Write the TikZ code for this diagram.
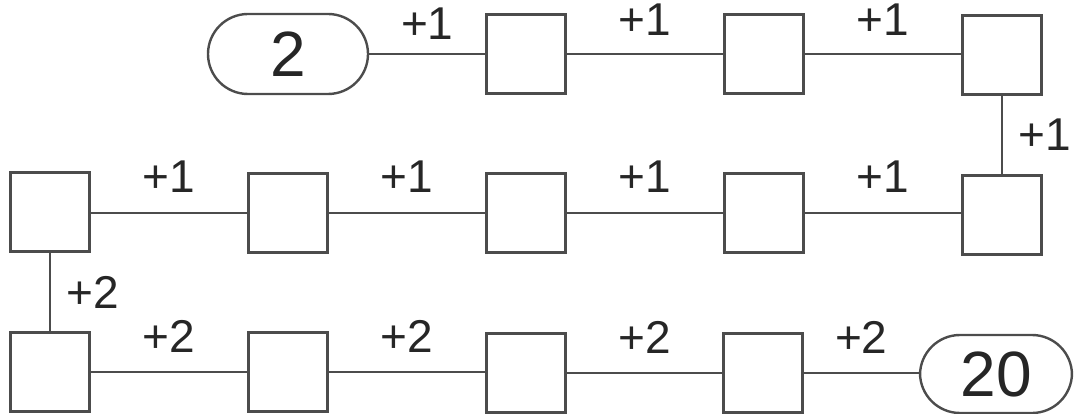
\documentclass[tikz,border=0pt]{standalone}
\usepackage{fontspec}
\setmainfont{Liberation Sans}
\begin{document}
\begin{tikzpicture}[x=1pt,y=-1pt,
  every node/.style={text=black!85},
  box/.style={draw=black!70,line width=2.4pt,minimum width=79pt,minimum height=79pt,inner sep=0pt},
  oval/.style={draw=black!70,line width=2.4pt,minimum height=80pt,rounded corners=40pt,inner sep=0pt,font=\fontsize{64}{70}\selectfont},
  conn/.style={draw=black!70,line width=2.4pt},
  lbl/.style={anchor=base,inner sep=0pt,font=\fontsize{46}{50}\selectfont},
  vlbl/.style={anchor=west,inner sep=0pt,font=\fontsize{46}{50}\selectfont}]
\useasboundingbox (0,0) rectangle (1079,414);
% row 1
\node[oval,minimum width=160pt] (s) at (288,54) {2};
\node[box] (a1) at (526,54) {};
\node[box] (a2) at (764,54) {};
\node[box] (a3) at (1002,55) {};
% row 2
\node[box] (b5) at (1002,215) {};
\node[box] (b4) at (764,213) {};
\node[box] (b3) at (526,213) {};
\node[box] (b2) at (288,213) {};
\node[box] (b1) at (50,212) {};
% row 3
\node[box] (c1) at (50,372) {};
\node[box] (c2) at (288,372) {};
\node[box] (c3) at (526,373) {};
\node[box] (c4) at (763,373) {};
\node[oval,minimum width=152pt,minimum height=78pt] (e) at (996,374) {20};
% connectors
\draw[conn] (s.east) -- node[lbl,yshift=14pt] (l1) {+1} (a1.west);
\draw[conn] (a1.east) -- node[lbl,yshift=18pt] (l2) {+1} (a2.west);
\draw[conn] (a2.east) -- node[lbl,yshift=18pt] (l3) {+1} (a3.west |- a2.east);
\draw[conn] (a3.south) -- node[vlbl,xshift=15pt] (l4) {+1} (b5.north);
\draw[conn] (b5.west |- b4.east) -- node[lbl,yshift=20pt] (l5) {+1} (b4.east);
\draw[conn] (b4.west) -- node[lbl,yshift=20pt] (l6) {+1} (b3.east);
\draw[conn] (b3.west) -- node[lbl,yshift=20pt] (l7) {+1} (b2.east);
\draw[conn] (b2.west) -- node[lbl,yshift=20pt] (l8) {+1} (b1.east |- b2.west);
\draw[conn] (b1.south) -- node[vlbl,xshift=15pt] (l9) {+2} (c1.north);
\draw[conn] (c1.east) -- node[lbl,yshift=20pt] (l10) {+2} (c2.west);
\draw[conn] (c2.east) -- node[lbl,yshift=20pt] (l11) {+2} (c3.west |- c2.east);
\draw[conn] (c3.east) -- node[lbl,yshift=20pt] (l12) {+2} (c4.west);
\draw[conn] (c4.east) -- node[lbl,yshift=20pt] (l13) {+2} (e.west |- c4.east);
\end{tikzpicture}
\end{document}
